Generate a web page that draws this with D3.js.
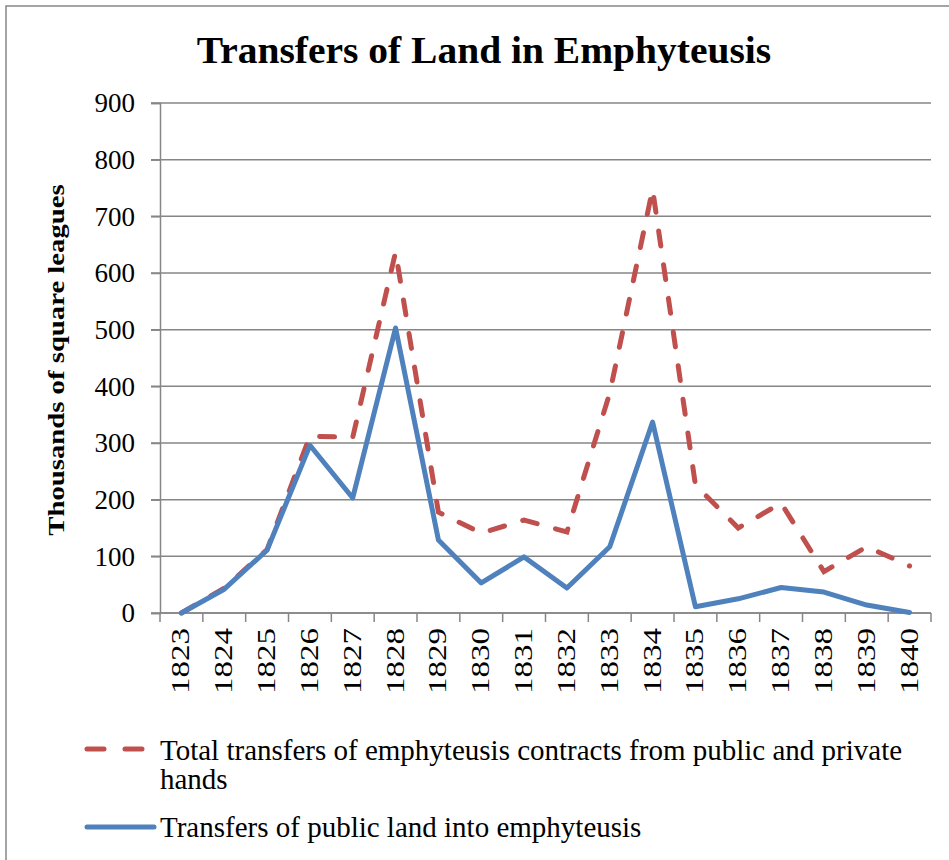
<!DOCTYPE html>
<html>
<head>
<meta charset="utf-8">
<script src="https://cdn.jsdelivr.net/npm/d3@7"></script>
<style>
  body { margin: 0; background: #fff; }
  text { font-family: "Liberation Serif", "DejaVu Serif", serif; fill: #000; }
</style>
</head>
<body>
<div id="chart"></div>
<script>
var years = [1823, 1824, 1825, 1826, 1827, 1828, 1829, 1830, 1831, 1832,
             1833, 1834, 1835, 1836, 1837, 1838, 1839, 1840];
var totalTransfers = [0, 44, 112, 312, 310, 637, 178, 141, 164, 143,
                      388, 748, 226, 150, 194, 73, 117, 83];
var publicTransfers = [0, 42, 111, 296, 203, 503, 129, 53, 99, 44,
                       117, 337, 11, 25, 45, 37, 14, 1];
var yTicks = [0, 100, 200, 300, 400, 500, 600, 700, 800, 900];
var seriesNames = ["Total transfers of emphyteusis contracts from public and private",
                   "hands",
                   "Transfers of public land into emphyteusis"];

var W = 949, H = 860;
var margin = {top: 103, right: 18, bottom: 247, left: 160};
var width = W - margin.left - margin.right;
var height = H - margin.top - margin.bottom;
var grey = "#868686";

var svg = d3.select("#chart").append("svg")
    .attr("width", W)
    .attr("height", H);

// outer frame (right and bottom edges fall outside the picture)
svg.append("rect")
    .attr("x", 6).attr("y", 6)
    .attr("width", W + 10).attr("height", H + 10)
    .attr("fill", "none")
    .attr("stroke", grey)
    .attr("stroke-width", 1.5);

svg.append("text")
    .attr("transform", "translate(484,63) scale(1.04,1)")
    .attr("text-anchor", "middle")
    .style("font-size", "38px")
    .style("font-weight", "bold")
    .text("Transfers of Land in Emphyteusis");

var g = svg.append("g")
    .attr("transform", "translate(" + margin.left + "," + margin.top + ")");

var x = d3.scaleBand().domain(years).range([0, width]);
var y = d3.scaleLinear().domain([0, 900]).range([height, 0]);

// gridlines
g.append("g")
    .selectAll("line")
    .data(yTicks)
    .join("line")
    .attr("x1", -9).attr("x2", width)
    .attr("y1", function(d) { return y(d); })
    .attr("y2", function(d) { return y(d); })
    .attr("stroke", grey)
    .attr("stroke-width", 1.5);

var yAxis = g.append("g")
    .call(d3.axisLeft(y).tickValues(yTicks).tickSize(9).tickPadding(16));
yAxis.select(".domain").attr("stroke", grey).attr("stroke-width", 1.5);
yAxis.selectAll(".tick line").attr("stroke", grey).attr("stroke-width", 1.5);
yAxis.selectAll("text")
    .style("font-size", "27px")
    .attr("font-family", null)
    .attr("dy", "0.33em");

// x axis: ticks sit on category boundaries
var xAxis = g.append("g").attr("transform", "translate(0," + height + ")");
xAxis.append("line")
    .attr("x1", 0).attr("x2", width)
    .attr("stroke", grey).attr("stroke-width", 1.5);
xAxis.selectAll(".xtick")
    .data(years.concat(["end"]))
    .join("line")
    .attr("class", "xtick")
    .attr("x1", function(d, i) { return i * x.step(); })
    .attr("x2", function(d, i) { return i * x.step(); })
    .attr("y1", 0).attr("y2", 9)
    .attr("stroke", grey).attr("stroke-width", 1.5);
xAxis.selectAll(".xlabel")
    .data(years)
    .join("text")
    .attr("class", "xlabel")
    .attr("transform", function(d) {
        return "translate(" + (x(d) + x.bandwidth() / 2 + 8) + ",15) rotate(-90) scale(1.27,1)";
    })
    .attr("text-anchor", "end")
    .style("font-size", "26px")
    .text(function(d) { return d; });

svg.append("text")
    .attr("transform", "translate(64," + (margin.top + height / 2 + 2) + ") rotate(-90) scale(1.25,1)")
    .attr("text-anchor", "middle")
    .style("font-size", "23px")
    .style("font-weight", "bold")
    .text("Thousands of square leagues");

var line = d3.line()
    .x(function(d, i) { return x(years[i]) + x.bandwidth() / 2; })
    .y(function(d) { return y(d); });

g.append("path")
    .datum(totalTransfers)
    .attr("fill", "none")
    .attr("stroke", "#C0504D")
    .attr("stroke-width", 5)
    .attr("stroke-linecap", "round")
    .attr("stroke-dasharray", "15,19")
    .attr("d", line);

g.append("path")
    .datum(publicTransfers)
    .attr("fill", "none")
    .attr("stroke", "#4F81BD")
    .attr("stroke-width", 5)
    .attr("stroke-linejoin", "round")
    .attr("stroke-linecap", "round")
    .attr("d", line);

// legend
var legend = svg.append("g");
legend.append("line")
    .attr("x1", 87).attr("x2", 145)
    .attr("y1", 749).attr("y2", 749)
    .attr("stroke", "#C0504D")
    .attr("stroke-width", 5)
    .attr("stroke-linecap", "round")
    .attr("stroke-dasharray", "17,21");
legend.append("text")
    .attr("x", 160).attr("y", 760)
    .style("font-size", "29px")
    .text(seriesNames[0]);
legend.append("text")
    .attr("x", 160).attr("y", 789)
    .style("font-size", "29px")
    .text(seriesNames[1]);
legend.append("line")
    .attr("x1", 87).attr("x2", 154)
    .attr("y1", 827).attr("y2", 827)
    .attr("stroke", "#4F81BD")
    .attr("stroke-width", 5)
    .attr("stroke-linecap", "round");
legend.append("text")
    .attr("x", 160).attr("y", 837)
    .style("font-size", "29px")
    .text(seriesNames[2]);
</script>
</body>
</html>
